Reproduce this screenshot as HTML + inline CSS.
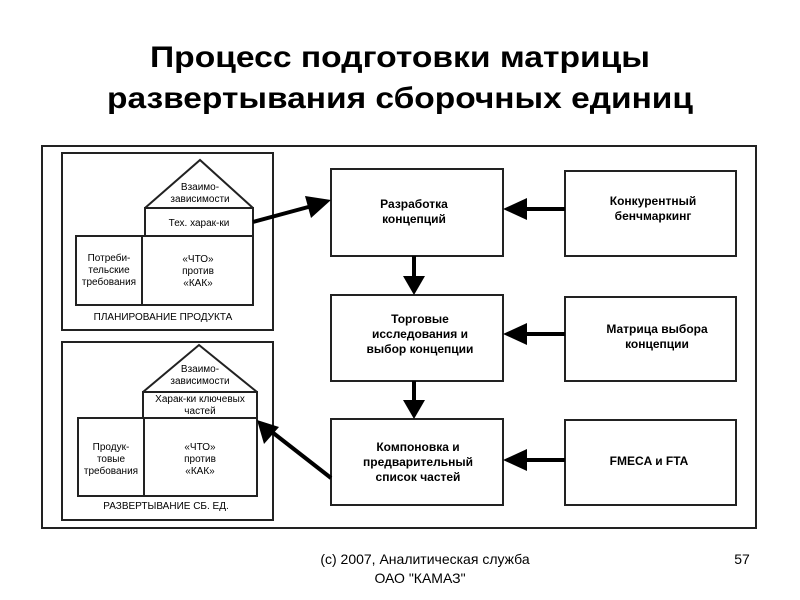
<!DOCTYPE html>
<html><head><meta charset="utf-8"><style>
html,body{margin:0;padding:0;background:#fff;width:800px;height:600px;overflow:hidden}
svg{display:block}
text{font-family:"Liberation Sans","DejaVu Sans",sans-serif;fill:#000}
</style></head><body>
<svg width="800" height="600" viewBox="0 0 800 600">
<text x="150" y="67" font-size="30" font-weight="bold" textLength="500" lengthAdjust="spacingAndGlyphs">Процесс подготовки матрицы</text>
<text x="107" y="108" font-size="30" font-weight="bold" textLength="586" lengthAdjust="spacingAndGlyphs">развертывания сборочных единиц</text>

<g fill="none" stroke="#222" stroke-width="2">
<rect x="42" y="146" width="714" height="382"/>
<rect x="62" y="153" width="211" height="177"/>
<rect x="62" y="342" width="211" height="178"/>
<polyline points="145,208 200,160 253,208"/>
<rect x="145" y="208" width="108" height="28"/>
<rect x="76" y="236" width="177" height="69"/>
<line x1="142" y1="236" x2="142" y2="305"/>
<polyline points="143,392 199,345 257,392"/>
<rect x="143" y="392" width="114" height="26"/>
<rect x="78" y="418" width="179" height="78"/>
<line x1="144" y1="418" x2="144" y2="496"/>
<rect x="331" y="169" width="172" height="87"/>
<rect x="331" y="295" width="172" height="86"/>
<rect x="331" y="419" width="172" height="86"/>
<rect x="565" y="171" width="171" height="85"/>
<rect x="565" y="297" width="171" height="84"/>
<rect x="565" y="420" width="171" height="85"/>
</g>
<g stroke="#000" stroke-width="4">
<line x1="565" y1="209" x2="520" y2="209"/>
<line x1="565" y1="334" x2="520" y2="334"/>
<line x1="565" y1="460" x2="520" y2="460"/>
<line x1="414" y1="256" x2="414" y2="280"/>
<line x1="414" y1="381" x2="414" y2="404"/>
<line x1="253" y1="222" x2="312" y2="206"/>
<line x1="331" y1="478" x2="272" y2="432"/>
</g>
<g fill="#000">
<polygon points="503,209 527,198 527,220"/>
<polygon points="503,334 527,323 527,345"/>
<polygon points="503,460 527,449 527,471"/>
<polygon points="414,295 403,276 425,276"/>
<polygon points="414,419 403,400 425,400"/>
<polygon points="331,200 305,196 311,218"/>
<polygon points="257,420 264,444 279,427"/>
</g>
<g font-size="10" text-anchor="middle">
<text x="200" y="190">Взаимо-</text>
<text x="200" y="202">зависимости</text>
<text x="199" y="226">Тех. харак-ки</text>
<text x="109" y="261">Потреби-</text>
<text x="109" y="273">тельские</text>
<text x="109" y="285">требования</text>
<text x="198" y="262">«ЧТО»</text>
<text x="198" y="274">против</text>
<text x="198" y="286">«КАК»</text>
<text x="163" y="320">ПЛАНИРОВАНИЕ ПРОДУКТА</text>
<text x="200" y="372">Взаимо-</text>
<text x="200" y="384">зависимости</text>
<text x="200" y="402">Харак-ки ключевых</text>
<text x="200" y="414">частей</text>
<text x="111" y="450">Продук-</text>
<text x="111" y="462">товые</text>
<text x="111" y="474">требования</text>
<text x="200" y="450">«ЧТО»</text>
<text x="200" y="462">против</text>
<text x="200" y="474">«КАК»</text>
<text x="166" y="509">РАЗВЕРТЫВАНИЕ СБ. ЕД.</text>
</g>
<g font-size="12" font-weight="bold" text-anchor="middle">
<text x="414" y="208">Разработка</text>
<text x="414" y="223">концепций</text>
<text x="420" y="323">Торговые</text>
<text x="420" y="338">исследования и</text>
<text x="420" y="353">выбор концепции</text>
<text x="418" y="451">Компоновка и</text>
<text x="418" y="466">предварительный</text>
<text x="418" y="481">список частей</text>
<text x="653" y="205">Конкурентный</text>
<text x="653" y="220">бенчмаркинг</text>
<text x="657" y="333">Матрица выбора</text>
<text x="657" y="348">концепции</text>
<text x="649" y="465">FMECA и FTA</text>
</g>
<g font-size="14" text-anchor="middle">
<text x="425" y="564">(c) 2007, Аналитическая служба</text>
<text x="420" y="583">ОАО "КАМАЗ"</text>
<text x="742" y="564">57</text>
</g>
</svg>
</body></html>
